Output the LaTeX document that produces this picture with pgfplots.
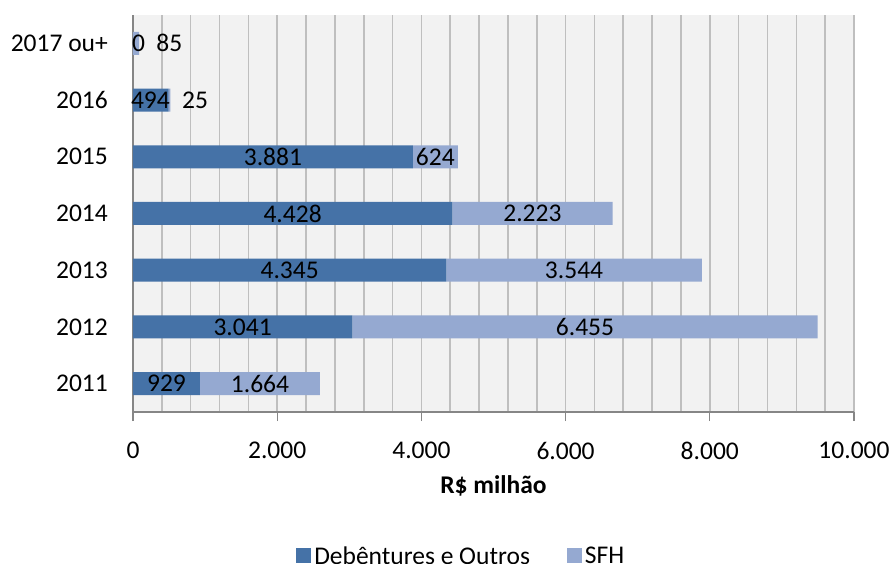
\documentclass[border=0pt]{standalone}
\usepackage{pgfplots}
\pgfplotsset{compat=1.18}
\usepackage{fontspec}
\setmainfont{Carlito}
\definecolor{darkbar}{HTML}{4572A7}
\definecolor{lightbar}{HTML}{95A9D1}
\definecolor{bggray}{HTML}{F2F2F2}
\definecolor{gridgray}{HTML}{BFBFBF}
\definecolor{axgray}{HTML}{868686}
\begin{document}
\begin{tikzpicture}[font=\fontsize{25.5}{30}\selectfont]
\path[use as bounding box] (-133pt,-152pt) rectangle (758pt,412pt);
\begin{axis}[
  at={(0pt,0pt)}, anchor=south west,
  scale only axis, width=721pt, height=397pt,
  xbar stacked, bar width=23pt,
  xmin=0, xmax=10000, ymin=-0.5, ymax=6.5,
  xtick={0,2000,...,10000},
  minor x tick num=4,
  scaled x ticks=false,
  /pgf/number format/.cd, 1000 sep={.}, assume math mode=true, /pgfplots/.cd,
  ytick={0,...,6},
  yticklabels={2011,2012,2013,2014,2015,2016,2017 ou+},
  axis x line*=bottom, axis y line*=left,
  axis line style={draw=axgray, line width=1.3pt, -},
  axis background/.style={fill=bggray},
  xmajorgrids, xminorgrids,
  major grid style={draw=gridgray, line width=1.6pt},
  minor grid style={draw=gridgray, line width=1.6pt},
  tick align=outside,
  major tick length=9pt, minor tick length=0pt,
  xtick style={draw=axgray, line width=1.3pt},
  ytick style={draw=none},
  xticklabel style={inner sep=0pt, yshift=-21pt},
  yticklabel style={inner sep=0pt, xshift=-16pt, anchor=east},
  xlabel={\bfseries R\$ milhão},
  xlabel style={at={(axis description cs:0.5,0)}, anchor=north, inner sep=0pt, yshift=-63pt},
  legend columns=2,
  legend style={at={(0.456,-0.3627)}, anchor=center, draw=none, fill=none,
    /tikz/every even column/.append style={column sep=34pt},
    nodes={inner sep=3pt}},
  legend image code/.code={\fill[#1] (0pt,-7.5pt) rectangle (15pt,7.5pt);},
]
\addplot[fill=darkbar, draw=none] coordinates {(929,0) (3041,1) (4345,2) (4428,3) (3881,4) (494,5) (0,6)};
\addplot[fill=lightbar, draw=none] coordinates {(1664,0) (6455,1) (3544,2) (2223,3) (624,4) (25,5) (85,6)};
\legend{Debêntures e Outros, SFH}
\coordinate (a0) at (axis cs:464.5,0);
\coordinate (b0) at (axis cs:1761,0);
\coordinate (a1) at (axis cs:1520.5,1);
\coordinate (b1) at (axis cs:6268.5,1);
\coordinate (a2) at (axis cs:2172.5,2);
\coordinate (b2) at (axis cs:6117,2);
\coordinate (a3) at (axis cs:2214,3);
\coordinate (b3) at (axis cs:5539.5,3);
\coordinate (a4) at (axis cs:1940.5,4);
\coordinate (b4) at (axis cs:4193,4);
\coordinate (a5) at (axis cs:242,5);
\coordinate (b5) at (axis cs:860,5);
\coordinate (a6) at (axis cs:76,6);
\coordinate (b6) at (axis cs:505,6);
\end{axis}
\node at (a0) {929};
\node at (b0) {1.664};
\node at (a1) {3.041};
\node at (b1) {6.455};
\node at (a2) {4.345};
\node at (b2) {3.544};
\node at (a3) {4.428};
\node at (b3) {2.223};
\node at (a4) {3.881};
\node at (b4) {624};
\node at (a5) {494};
\node at (b5) {25};
\node at (a6) {0};
\node at (b6) {85};
\end{tikzpicture}
\end{document}
